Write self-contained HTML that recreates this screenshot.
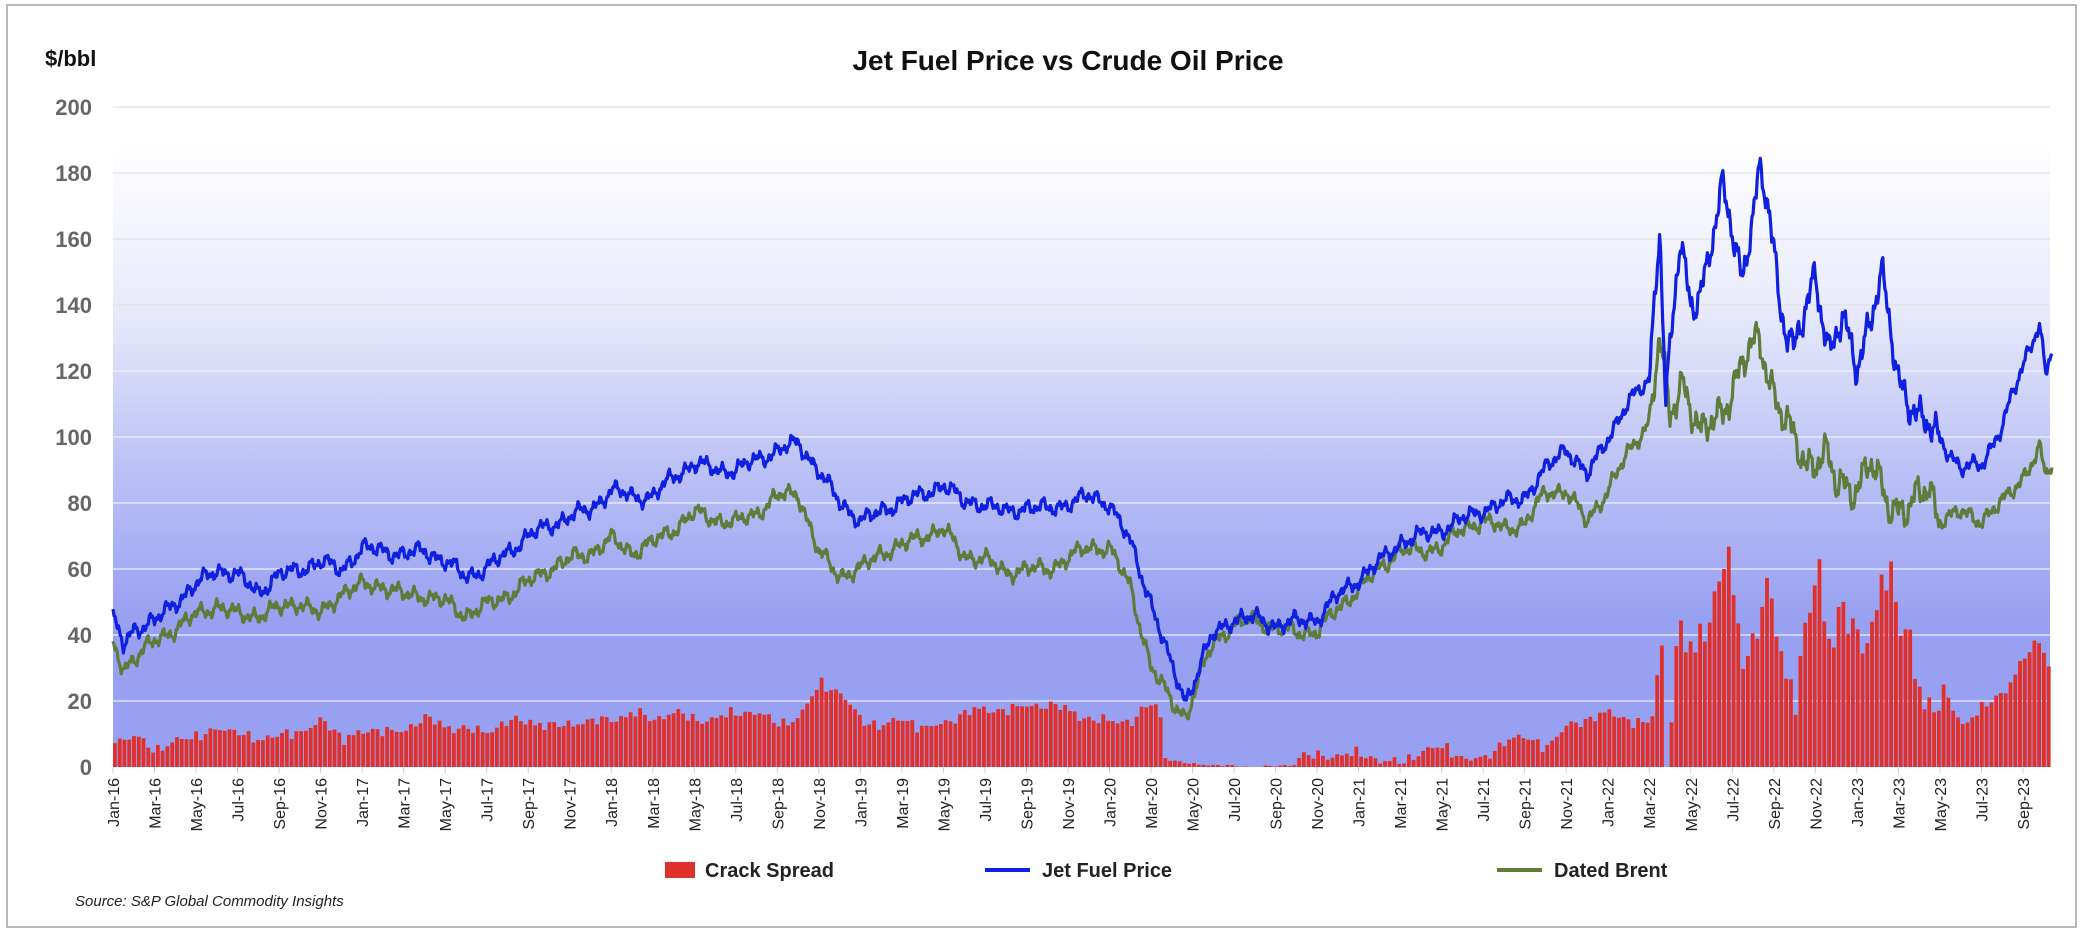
<!DOCTYPE html>
<html><head><meta charset="utf-8"><style>
html,body{margin:0;padding:0;background:#fff;}
svg{display:block;font-family:"Liberation Sans",sans-serif;}
</style></head><body>
<svg id="s" width="2086" height="934" xmlns="http://www.w3.org/2000/svg">
<defs>
<linearGradient id="bg" gradientUnits="userSpaceOnUse" x1="0" y1="137" x2="0" y2="620">
<stop offset="0" stop-color="#ffffff"/>
<stop offset="0.35" stop-color="#e9ebfb"/>
<stop offset="0.65" stop-color="#c0c5f6"/>
<stop offset="1" stop-color="#98a0f2"/>
</linearGradient>
</defs>
<rect x="7" y="5" width="2069" height="922" fill="#fff" stroke="#b8b8b8" stroke-width="2"/>
<rect x="113" y="137" width="1937" height="630" fill="url(#bg)"/>
<g id="grid"></g>
<g id="bars"></g>
<g id="lines"></g>
<g id="axis"></g>
<text x="45" y="66" font-size="22" font-weight="bold" fill="#111">$/bbl</text>
<text x="1068" y="70" font-size="28" font-weight="bold" fill="#111" text-anchor="middle">Jet Fuel Price vs Crude Oil Price</text>
<rect x="665" y="862" width="30" height="16" fill="#e0302a"/>
<text x="705" y="877" font-size="20" font-weight="bold" fill="#222">Crack Spread</text>
<line x1="985" y1="870" x2="1030" y2="870" stroke="#1020e0" stroke-width="4"/>
<text x="1042" y="877" font-size="20" font-weight="bold" fill="#222">Jet Fuel Price</text>
<line x1="1497" y1="870" x2="1542" y2="870" stroke="#5e7d3a" stroke-width="4"/>
<text x="1554" y="877" font-size="20" font-weight="bold" fill="#222">Dated Brent</text>
<text x="75" y="906" font-size="15" font-style="italic" fill="#222">Source:  S&amp;P Global Commodity Insights</text>
</svg>
<script>
var NS="http://www.w3.org/2000/svg";
function el(p,t,a,txt){var e=document.createElementNS(NS,t);for(var k in a)e.setAttribute(k,a[k]);if(txt!=null)e.textContent=txt;document.getElementById(p).appendChild(e);return e;}
var X0=113,PM=20.76,Y0=767,PY=3.3;
function X(m){return X0+m*PM;}function Y(v){return Y0-v*PY;}
for(var v=0;v<=200;v+=20){
 if(v>0)el("grid","line",{x1:113,x2:2050,y1:Y(v),y2:Y(v),stroke:v>=140?"#e2e2e2":"#eef0ff","stroke-width":1.3});
 el("axis","text",{x:92,y:Y(v)+8,"font-size":22,"font-weight":"bold",fill:"#666","text-anchor":"end"},String(v));
}
var mn=["Jan","Mar","May","Jul","Sep","Nov"];
for(var m=0;m<=92;m+=2){
 var yr=16+Math.floor(m/12),lab=mn[(m%12)/2]+"-"+yr,x=X(m);
 el("axis","line",{x1:x,x2:x,y1:767,y2:773,stroke:"#ccc"});
 el("axis","text",{transform:"translate("+(x+6)+",778) rotate(-90)","font-size":16,fill:"#222","text-anchor":"end"},lab);
}
var J=[[0,45],[0.5,37],[1,42],[2,44],[3,50],[4,55],[5,60],[6,58],[7,53],[8,58],[9,60],[10,62],[11,60],[12,66],[13,66],[14,64],[15,66],[16,62],[17,58],[18,60],[19,65],[20,70],[21,73],[22,76],[23,78],[24,84],[25,82],[26,82],[27,88],[28,92],[29,90],[30,90],[31,93],[32,96],[33,98],[34,90],[35,80],[36,75],[37,77],[38,81],[39,82],[40,86],[41,80],[42,80],[43,77],[44,79],[45,78],[46,80],[47,82],[48,80],[49,68],[50,50],[51,30],[51.7,20],[52.5,33],[53,40],[54,45],[55,45],[56,43],[57,44],[58,45],[59,52],[60,57],[61,62],[62,68],[63,70],[64,72],[65,75],[66,78],[67,80],[68,82],[69,90],[70,97],[71,88],[72,100],[73,110],[74,118],[74.5,165],[74.8,110],[75.5,160],[76,140],[76.8,150],[77.5,175],[78,165],[78.5,148],[79.3,178],[79.8,170],[80.3,140],[81,125],[82,150],[82.7,125],[83.3,135],[84,122],[85.2,148],[86,118],[87,105],[88,100],[89,90],[90,92],[91,103],[92,122],[92.8,135],[93.1,118],[93.4,125]];
var B=[[0,37],[0.5,30],[1,33],[2,38],[3,42],[4,46],[5,49],[6,46],[7,46],[8,48],[9,50],[10,46],[11,53],[12,55],[13,55],[14,52],[15,52],[16,50],[17,46],[18,49],[19,52],[20,56],[21,60],[22,63],[23,65],[24,69],[25,65],[26,68],[27,72],[28,77],[29,75],[30,74],[31,77],[32,82],[33,83],[34,65],[35,58],[36,60],[37,65],[38,67],[39,70],[40,72],[41,64],[42,63],[43,59],[44,60],[45,60],[46,63],[47,67],[48,66],[49,55],[50,30],[51,20],[51.7,15],[52.5,30],[53,38],[54,43],[55,45],[56,42],[57,41],[58,41],[59,48],[60,54],[61,60],[62,66],[63,65],[64,67],[65,72],[66,75],[67,72],[68,74],[69,83],[70,84],[71,74],[72,84],[73,95],[74,105],[74.5,130],[75,105],[75.6,118],[76.5,100],[77.5,108],[78.5,122],[79.3,130],[79.8,118],[80.5,105],[81.5,92],[82.5,95],[83,85],[84,85],[84.6,92],[85.5,80],[86.5,78],[87.5,85],[88,75],[89,77],[90,75],[91,80],[92,88],[92.8,96],[93.1,88],[93.4,92]];
function interp(a,m){for(var i=1;i<a.length;i++){if(m<=a[i][0]){var t=(m-a[i-1][0])/(a[i][0]-a[i-1][0]);return a[i-1][1]+t*(a[i][1]-a[i-1][1]);}}return a[a.length-1][1];}
function nz(m,s){return Math.sin(m*7.3+s)*1.2+Math.sin(m*17.1+s*2)*0.9+Math.sin(m*3.1+s)*0.8+Math.sin(m*41.7+s*3)*0.7;}
var pj=[],pb=[],step=0.05;
for(var m=0;m<=93.4;m+=step){
 var amp=m>74&&m<88?2.4:1.1;
 var j=interp(J,m)+nz(m,1)*amp,b=interp(B,m)+nz(m,2.3)*amp;
 pj.push(X(m).toFixed(1)+","+Y(j).toFixed(1));pb.push(X(m).toFixed(1)+","+Y(b).toFixed(1));
}
for(var m=0;m<=93.3;m+=0.23){
 var a2=m>74&&m<88?3:0.7;
 var c=interp(J,m)-interp(B,m)+(nz(m,5)+Math.sin(m*29+1))*a2;if(m>50.5&&m<57)c=Math.max(0,c*0.2);
 if(c<0)c=0;
 el("bars","rect",{x:X(m).toFixed(1),y:Y(c).toFixed(1),width:3.8,height:(c*PY).toFixed(1),fill:"#e0302a"});
}
el("lines","polyline",{points:pb.join(" "),fill:"none",stroke:"#5e7d3a","stroke-width":3.2,"stroke-linejoin":"round"});
el("lines","polyline",{points:pj.join(" "),fill:"none",stroke:"#1020e0","stroke-width":3.2,"stroke-linejoin":"round"});
</script>
</body></html>
